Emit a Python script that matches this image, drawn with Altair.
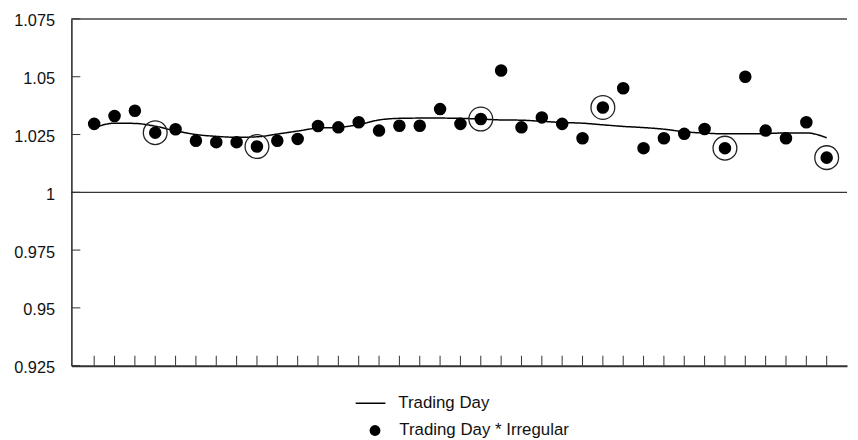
import altair as alt
import pandas as pd

# ---- data ----
period = list(range(1, 38))
irregular = [1.0296, 1.0330, 1.0353, 1.0258, 1.0273, 1.0223, 1.0217, 1.0217, 1.0198, 1.0223,
             1.0231, 1.0287, 1.0281, 1.0303, 1.0267, 1.0288, 1.0288, 1.0360, 1.0296, 1.0317,
             1.0527, 1.0281, 1.0324, 1.0296, 1.0234, 1.0367, 1.0450, 1.0191, 1.0234, 1.0253,
             1.0274, 1.0191, 1.0500, 1.0267, 1.0234, 1.0303, 1.0150]
trading_day = [1.0279, 1.0299, 1.0298, 1.0286, 1.0266, 1.0250, 1.0242, 1.0238, 1.0240, 1.0252,
               1.0265, 1.0278, 1.0281, 1.0293, 1.0313, 1.0320, 1.0321, 1.0321, 1.0320, 1.0317,
               1.0313, 1.0312, 1.0307, 1.0302, 1.0299, 1.0292, 1.0285, 1.0280, 1.0273, 1.0262,
               1.0256, 1.0253, 1.0253, 1.0254, 1.0257, 1.0257, 1.0236]
circled = [4, 9, 20, 26, 32, 37]
y_ticks = [0.925, 0.95, 0.975, 1.0, 1.025, 1.05, 1.075]
gridline = [1.0]
top_border = [1.075]

FONT = "Liberation Sans"

df = pd.DataFrame({
    "period": period,
    "irr": irregular,
    "td": trading_day,
    "line_series": ["Trading Day"] * len(period),
    "pt_series": ["Trading Day * Irregular"] * len(period),
    "circled": [p in circled for p in period],
})

xs = alt.Scale(domain=[-0.12, 38], nice=False, zero=False)
ys = alt.Scale(domain=[0.925, 1.075], nice=False, zero=False)

x_axis = alt.Axis(labels=False, ticks=False, grid=False, title=None,
                  domainColor="#333333", domainWidth=2)
y_axis = alt.Axis(values=y_ticks, labelExpr="format(datum.value, '~g')", ticks=False,
                  grid=False, title=None, domainColor="#222222", domainWidth=1.5,
                  labelPadding=17, labelFontSize=16.5, labelFont=FONT, labelColor="#111111",
                  labelOffset=2)


def X(field):
    return alt.X(field, scale=xs, axis=x_axis)


def Y(field):
    return alt.Y(field, scale=ys, axis=y_axis)


grid_rule = alt.Chart(pd.DataFrame({"v": gridline})).mark_rule(
    color="black", strokeWidth=1).encode(y=Y("v:Q"))

top_rule = alt.Chart(pd.DataFrame({"v": top_border})).mark_rule(
    color="#444444", strokeWidth=1.5).encode(y=Y("v:Q"))

x_ticks = alt.Chart(pd.DataFrame({"p": period})).mark_rule(
    color="#333333", strokeWidth=1).encode(
    x=X("p:Q"), y=alt.value(350), y2=alt.value(340))

y_tick_marks = alt.Chart(pd.DataFrame({"t": y_ticks})).mark_rule(
    color="#333333", strokeWidth=1).encode(
    y=Y("t:Q"), x=alt.value(0), x2=alt.value(9))

line = alt.Chart(df).mark_line(color="black", strokeWidth=1.5, interpolate="monotone").encode(
    x=X("period:Q"),
    y=Y("td:Q"),
    strokeDash=alt.StrokeDash("line_series:N", scale=alt.Scale(range=[[1, 0]]),
                              legend=alt.Legend(orient="none", legendX=286, legendY=372,
                                                title=None, symbolType="stroke",
                                                symbolSize=900, symbolStrokeWidth=1.5,
                                                symbolStrokeColor="black",
                                                labelFontSize=17, labelFont=FONT,
                                                labelColor="#111111", labelOffset=12,
                                                labelLimit=400, padding=0)),
)

points = alt.Chart(df).mark_point(filled=True, color="black", size=160, opacity=1).encode(
    x=X("period:Q"),
    y=Y("irr:Q"),
    shape=alt.Shape("pt_series:N", scale=alt.Scale(range=["circle"]),
                    legend=alt.Legend(orient="none", legendX=298, legendY=407,
                                      title=None, symbolSize=120,
                                      symbolFillColor="black", symbolStrokeColor="black",
                                      symbolStrokeWidth=0, symbolOpacity=1,
                                      labelFontSize=17, labelFont=FONT,
                                      labelColor="#111111", labelOffset=16,
                                      labelLimit=400, padding=0)),
)

rings = alt.Chart(df).transform_filter("datum.circled").mark_point(
    shape="circle", filled=False, color="#222222", size=576, strokeWidth=1.3, opacity=1).encode(
    x=X("period:Q"),
    y=Y("irr:Q"),
)

chart = alt.layer(grid_rule, top_rule, x_ticks, y_tick_marks, line, points, rings).properties(
    width=783, height=350,
    autosize=alt.AutoSizeParams(type="none"),
    padding={"left": 64, "top": 9, "right": 3, "bottom": 73},
    background="white",
).configure_view(strokeWidth=0)

chart.save("out.html", embed_options={"renderer": "svg", "actions": False})
